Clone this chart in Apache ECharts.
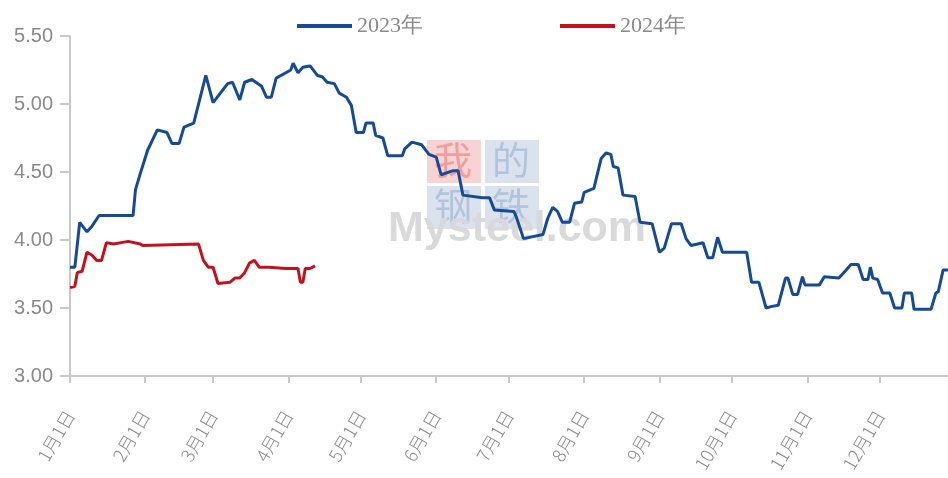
<!DOCTYPE html>
<html>
<head>
<meta charset="utf-8">
<script src="https://cdn.jsdelivr.net/npm/echarts@6/dist/echarts.min.js"></script>
<style>
html,body{margin:0;padding:0;background:#fff;}
#chart{width:948px;height:478px;}
</style>
</head>
<body>
<div id="chart"></div>
<script>
// Day of year (0 = 1月1日) and price values
const days2023 = [0,2,4,7,9,12,26,27,29,32,36,40,42,45,47,51,56,59,62,65,67,70,72,75,79,81,83,85,89,91,92,94,96,99,102,104,106,109,111,114,116,118,121,122,125,126,129,131,137,138,141,145,148,151,153,158,160,162,170,173,175,183,184,187,195,197,199,201,203,206,208,211,212,216,219,221,223,224,226,228,233,235,240,243,245,248,252,254,256,261,263,265,267,269,279,281,284,287,289,292,295,296,298,300,302,303,309,311,317,319,322,325,327,329,330,331,333,335,338,340,343,344,347,348,355,357,358,360,364];
const values2023 = [3.80,3.80,4.13,4.06,4.10,4.18,4.18,4.37,4.49,4.66,4.81,4.79,4.71,4.71,4.83,4.86,5.21,5.01,5.08,5.15,5.16,5.03,5.16,5.18,5.13,5.05,5.05,5.19,5.23,5.25,5.30,5.23,5.27,5.28,5.21,5.20,5.16,5.15,5.08,5.05,4.99,4.79,4.79,4.86,4.86,4.77,4.75,4.62,4.62,4.67,4.72,4.70,4.63,4.61,4.48,4.51,4.51,4.33,4.31,4.31,4.22,4.21,4.17,4.01,4.04,4.16,4.24,4.21,4.13,4.13,4.27,4.28,4.35,4.38,4.60,4.64,4.63,4.54,4.53,4.33,4.32,4.13,4.12,3.91,3.94,4.12,4.12,4.01,3.96,3.98,3.87,3.87,4.02,3.91,3.91,3.69,3.69,3.50,3.51,3.52,3.72,3.72,3.60,3.60,3.73,3.67,3.67,3.73,3.72,3.76,3.82,3.82,3.71,3.71,3.80,3.72,3.71,3.61,3.61,3.50,3.50,3.61,3.61,3.49,3.49,3.61,3.62,3.78,3.78];
const days2024 = [0,2,3,5,7,9,11,13,15,18,24,29,30,53,55,57,59,61,66,68,70,72,74,76,78,82,89,94,95,96,97,99,101];
const values2024 = [3.65,3.66,3.76,3.77,3.91,3.89,3.85,3.85,3.98,3.97,3.99,3.97,3.96,3.97,3.85,3.80,3.80,3.68,3.69,3.72,3.72,3.76,3.83,3.85,3.80,3.80,3.79,3.79,3.69,3.69,3.79,3.79,3.81];
const monthStartDays = [0,31,59,90,120,151,181,212,243,273,304,334];
const monthLabels = ['1月1日','2月1日','3月1日','4月1日','5月1日','6月1日','7月1日','8月1日','9月1日','10月1日','11月1日','12月1日'];
const seriesNames = ['2023年','2024年'];
const yTicks = [3.0,3.5,4.0,4.5,5.0,5.5];

const pair = (d, v) => d.map((x, i) => [x, v[i]]);

const chart = echarts.init(document.getElementById('chart'), null, {renderer:'canvas'});
const axisColor = '#c8c8c8';
const labelColor = '#8a8a8a';
chart.setOption({
  animation: false,
  legend: {
    left: 292, top: 10,
    icon: 'rect',
    itemWidth: 55, itemHeight: 4, itemGap: 137,
    textStyle: {color: labelColor, fontSize: 22, fontFamily: 'Liberation Serif'},
    data: seriesNames
  },
  grid: {left: 70, right: 0, top: 36, bottom: 102},
  xAxis: {
    type: 'value', min: 0, max: 362,
    axisLine: {lineStyle: {color: axisColor, width: 2}},
    axisTick: {show: true, length: 7, customValues: monthStartDays, lineStyle: {color: axisColor, width: 2}},
    splitLine: {show: false},
    axisLabel: {
      customValues: monthStartDays,
      rotate: 60, margin: 36,
      color: labelColor, fontSize: 18, fontFamily: 'Noto Sans CJK SC', fontWeight: 300,
      formatter: v => monthLabels[monthStartDays.indexOf(v)]
    }
  },
  yAxis: {
    type: 'value', min: yTicks[0], max: yTicks[yTicks.length-1], interval: 0.5,
    axisLine: {show: true, lineStyle: {color: axisColor, width: 2}},
    axisTick: {show: true, length: 10, lineStyle: {color: axisColor, width: 2}},
    splitLine: {show: false},
    axisLabel: {margin: 17, color: labelColor, fontSize: 20, fontFamily: 'Liberation Sans', formatter: v => v.toFixed(2)}
  },
  graphic: [
    {type: 'rect', left: 427, top: 140, z: 0, shape: {width: 54, height: 43}, style: {fill: '#f8d3d3'}},
    {type: 'rect', left: 485, top: 140, z: 0, shape: {width: 54, height: 43}, style: {fill: '#dae2ee'}},
    {type: 'rect', left: 427, top: 186, z: 0, shape: {width: 54, height: 43}, style: {fill: '#dae2ee'}},
    {type: 'rect', left: 485, top: 186, z: 0, shape: {width: 54, height: 43}, style: {fill: '#dae2ee'}},
    {type: 'text', left: 434, top: 141, z: 1, style: {text: '我', fill: '#ef9e9e', font: '38px "Noto Sans CJK SC"'}},
    {type: 'text', left: 492, top: 141, z: 1, style: {text: '的', fill: '#b3c3dc', font: '38px "Noto Sans CJK SC"'}},
    {type: 'text', left: 434, top: 187, z: 1, style: {text: '钢', fill: '#b3c3dc', font: '38px "Noto Sans CJK SC"'}},
    {type: 'text', left: 492, top: 187, z: 1, style: {text: '铁', fill: '#b3c3dc', font: '38px "Noto Sans CJK SC"'}},
    {type: 'text', left: 388, top: 208, z: 1, style: {text: 'Mysteel.com', fill: '#d9d9d9', font: 'bold 43px "Liberation Sans"'}}
  ],
  series: [
    {name: seriesNames[0], type: 'line', symbol: 'none', z: 3, color: '#154b96',
     lineStyle: {width: 3, color: '#154b96'}, data: pair(days2023, values2023)},
    {name: seriesNames[1], type: 'line', symbol: 'none', z: 3, color: '#c3121d',
     lineStyle: {width: 3, color: '#c3121d'}, data: pair(days2024, values2024)}
  ]
});
</script>
</body>
</html>
